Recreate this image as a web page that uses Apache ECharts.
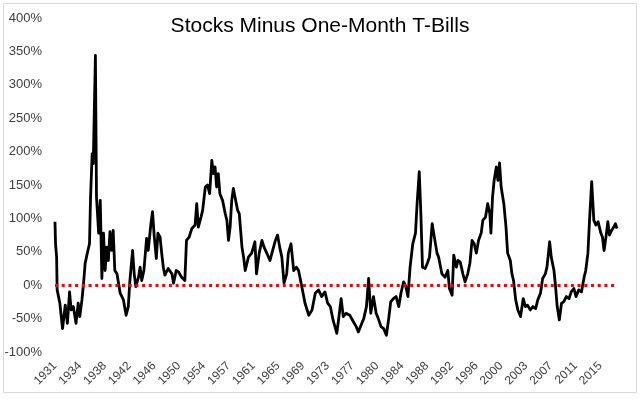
<!DOCTYPE html>
<html>
<head>
<meta charset="utf-8">
<title>Stocks Minus One-Month T-Bills</title>
<script src="https://cdn.jsdelivr.net/npm/echarts@6/dist/echarts.min.js"></script>
<style>
  html, body { margin: 0; padding: 0; background: #fff; }
  #chart { width: 640px; height: 399px; }
</style>
</head>
<body>
<div id="chart"></div>
<script>
// months counted from Jan 1931, excess return (%)
var months = [
  0, 1, 3, 4, 9, 14, 19, 23, 27, 30, 34, 39, 43, 46, 50, 53, 56, 60, 64, 66,
  69, 71, 75, 77, 81, 84, 87, 90, 93, 96, 99, 102, 105, 108, 111, 115, 121, 127, 132, 136,
  139, 144, 147, 150, 155, 158, 161, 165, 170, 173, 178, 181, 184, 188, 191, 195, 198, 201, 204, 210,
  217, 220, 225, 229, 235, 241, 244, 249, 254, 260, 263, 266, 271, 274, 279, 283, 287, 291, 294, 297,
  300, 303, 306, 311, 316, 319, 322, 325, 328, 331, 334, 339, 342, 347, 350, 353, 359, 365, 371, 374,
  379, 384, 388, 393, 399, 404, 409, 413, 417, 421, 425, 430, 433, 438, 443, 448, 452, 458, 464, 471,
  477, 483, 489, 495, 501, 506, 511, 516, 523, 527, 531, 535, 540, 547, 554, 559, 563, 568, 573, 578,
  582, 586, 591, 596, 600, 605, 610, 615, 619, 623, 628, 633, 638, 642, 647, 651, 655, 659, 664, 669,
  672, 676, 679, 682, 687, 691, 695, 700, 704, 709, 712, 718, 724, 729, 732, 737, 740, 745, 748, 752,
  757, 761, 766, 770, 774, 778, 782, 786, 791, 794, 799, 803, 807, 809, 812, 815, 819, 822, 825, 828,
  833, 837, 840, 845, 848, 851, 855, 859, 864, 869, 873, 877, 882, 887, 892, 896, 901, 905, 910, 913,
  918, 921, 926, 929, 932, 936, 940, 944, 949, 954, 958, 963, 967, 972, 977, 982, 985, 989, 992, 996,
  1000, 1004, 1008, 1013, 1016, 1019, 1023, 1026, 1029, 1033, 1037, 1040, 1043
];
var excessPct = [
  95, 62, 42, -7, -27, -65, -30, -57, -10, -37, -32, -57, -27, -47, -22, 3, 33, 48, 62, 132,
  197, 182, 344, 132, 78, 127, 10, 78, 22, 57, 37, 80, 52, 82, 22, 17, -12, -22, -45, -32,
  7, 52, 17, -2, 12, 27, 7, 22, 70, 52, 92, 110, 75, 40, 78, 72, 48, 27, 15, 25,
  17, 3, 22, 20, 12, 7, 67, 72, 85, 90, 122, 87, 102, 112, 147, 150, 137, 187, 167, 177,
  147, 167, 137, 127, 107, 97, 67, 87, 127, 145, 132, 112, 107, 57, 42, 22, 42, 48, 65, 17,
  48, 67, 57, 48, 37, 52, 67, 75, 57, 42, 3, 17, 48, 62, 22, 27, 22, -2, -27, -45,
  -37, -12, -7, -17, -10, -27, -32, -52, -72, -47, -20, -47, -42, -45, -55, -62, -70, -60, -50, -32,
  10, -42, -17, -42, -50, -62, -65, -75, -52, -25, -20, -17, -32, -12, 5, -2, -17, 27, 62, 78,
  122, 170, 107, 27, 25, 33, 42, 92, 72, 48, 42, 17, 12, 22, -5, -15, 45, 27, 37, 35,
  17, 5, 17, 33, 67, 62, 48, 67, 78, 97, 102, 122, 107, 78, 132, 157, 177, 157, 183, 147,
  122, 87, 48, 37, 17, 7, -22, -37, -47, -20, -32, -30, -37, -32, -35, -22, -12, 10, 17, 27,
  65, 42, 22, -2, -32, -52, -27, -25, -17, -20, -10, -5, -17, -7, -10, 12, 22, 48, 97, 155,
  97, 90, 95, 78, 72, 52, 75, 95, 75, 82, 87, 92, 85
];
// x-axis labels, one every 46 months
var yearLabels = ['1931', '1934', '1938', '1942', '1946', '1950', '1954', '1957', '1961', '1965',
  '1969', '1973', '1977', '1980', '1984', '1988', '1992', '1996', '2000', '2003', '2007', '2011', '2015'];
var labelStep = 46;

var seriesData = [];
for (var i = 0; i < months.length; i++) {
  seriesData.push([months[i], excessPct[i]]);
}

var chart = echarts.init(document.getElementById('chart'));
var option = {
  animation: false,
  backgroundColor: '#fff',
  title: {
    text: 'Stocks Minus One-Month T-Bills',
    left: 'center',
    top: 11,
    textStyle: {
      fontFamily: 'Liberation Sans, Arial, sans-serif',
      fontSize: 21,
      fontWeight: 'normal',
      color: '#000'
    }
  },
  graphic: [{
    type: 'rect',
    shape: { x: 3.5, y: 3.5, width: 633, height: 389 },
    style: { fill: 'none', stroke: '#d9d9d9', lineWidth: 1 },
    silent: true
  }],
  grid: { left: 55, right: 23, top: 18, bottom: 47, containLabel: false },
  xAxis: {
    type: 'value',
    min: 0,
    max: 1043,
    interval: labelStep,
    axisLine: { show: false, onZero: false },
    axisTick: { show: false },
    splitLine: { show: false },
    axisLabel: {
      rotate: 45,
      margin: 12,
      showMaxLabel: false,
      fontFamily: 'Liberation Sans, Arial, sans-serif',
      fontSize: 12,
      color: '#404040',
      formatter: function (v) {
        var k = v / labelStep;
        return Number.isInteger(k) && yearLabels[k] ? yearLabels[k] : '';
      }
    }
  },
  yAxis: {
    type: 'value',
    min: -100,
    max: 400,
    interval: 50,
    axisLine: { show: false, onZero: false },
    axisTick: { show: false },
    splitLine: { show: false },
    axisLabel: {
      margin: 13,
      fontFamily: 'Liberation Sans, Arial, sans-serif',
      fontSize: 13,
      color: '#404040',
      formatter: '{value}%'
    }
  },
  series: [{
    name: 'Stocks Minus One-Month T-Bills',
    type: 'line',
    data: seriesData,
    showSymbol: false,
    lineStyle: { color: '#000', width: 2.8, join: 'round' },
    markLine: {
      silent: true,
      symbol: 'none',
      label: { show: false },
      lineStyle: { color: '#ff0000', width: 3, type: [3, 3.7] },
      data: [{ yAxis: 0 }]
    }
  }]
};
chart.setOption(option);
</script>
</body>
</html>
